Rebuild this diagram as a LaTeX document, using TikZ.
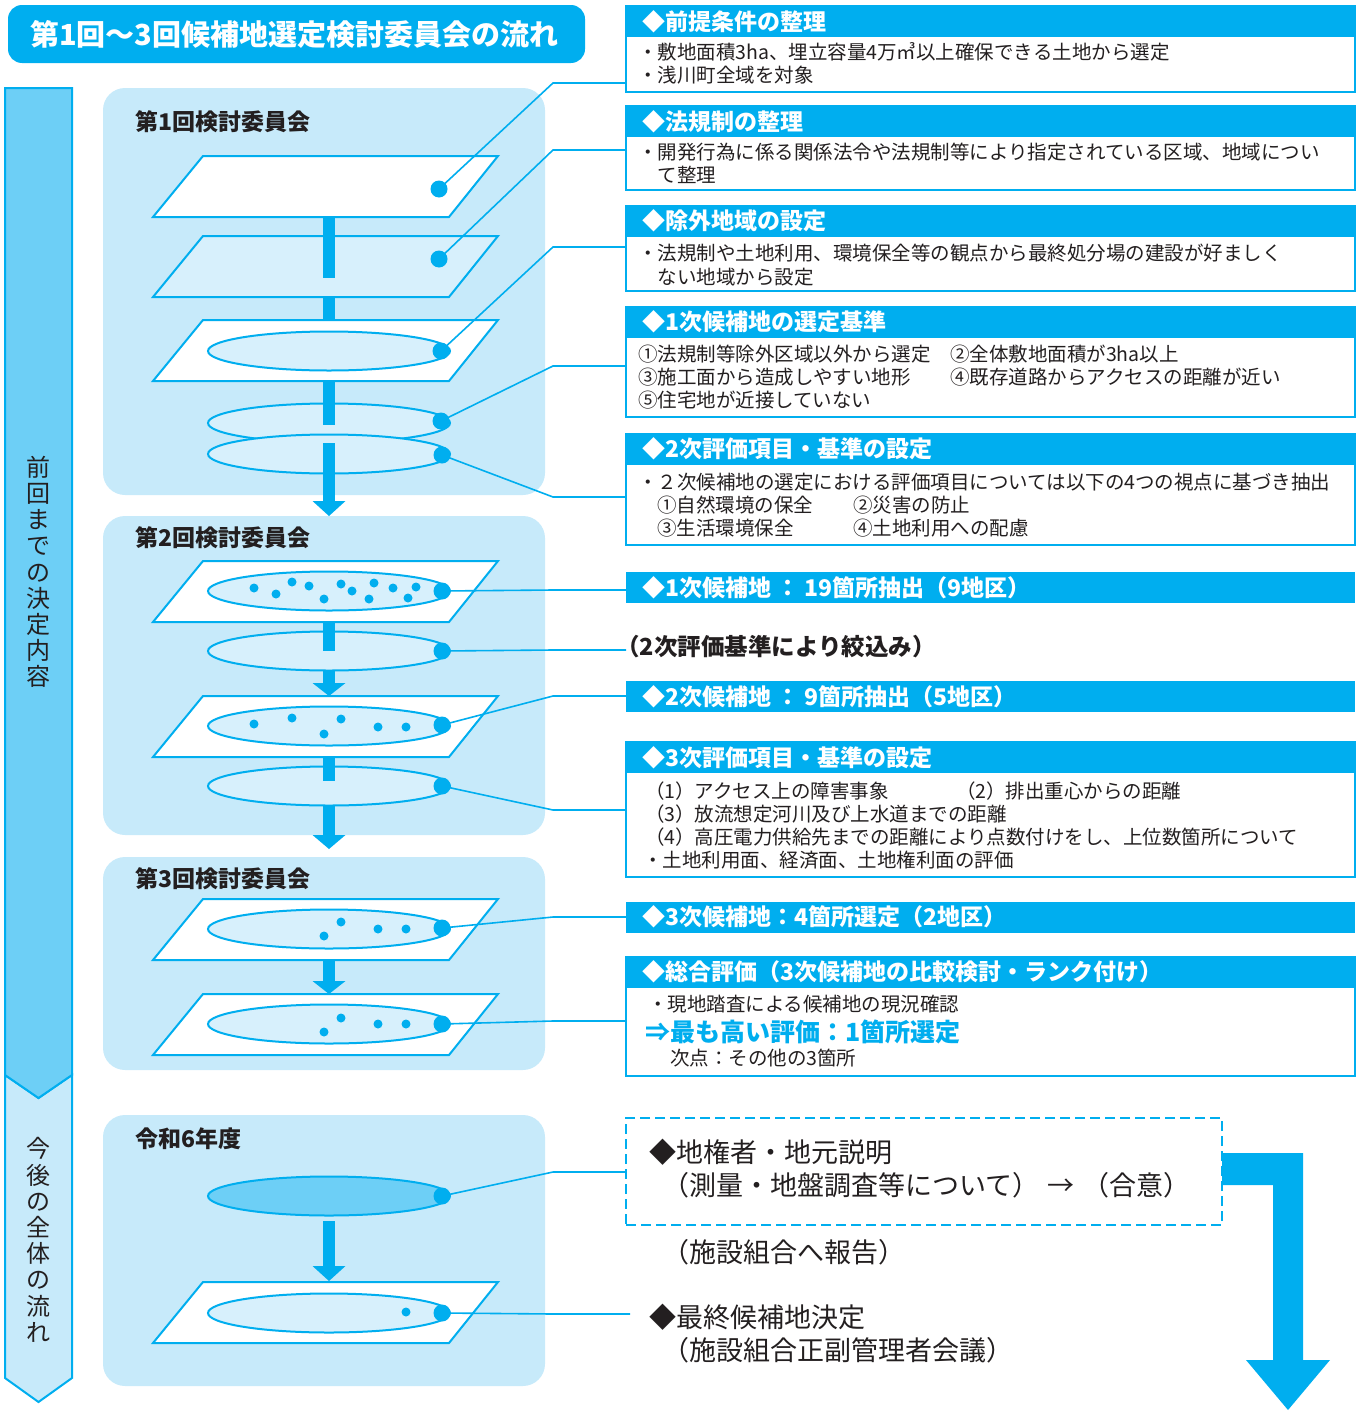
\documentclass[tikz,border=0pt]{standalone}
\usepackage{fontspec}
\setmainfont{Noto Sans CJK JP}
\newfontfamily\jph[RawFeature=+halt]{Noto Sans CJK JP}
\newcommand\lp{{\jph （}}
\newcommand\rp{{\jph ）}}
\definecolor{cy}{HTML}{00AEEF}
\definecolor{pan}{HTML}{C7EAFA}
\definecolor{ell}{HTML}{D7F0FC}
\definecolor{mid}{HTML}{6DCFF6}
\definecolor{ink}{HTML}{231F20}
\newcommand\myplane[2]{\filldraw[plane,fill=#2] (203,#1) -- (498,#1) -- (449,#1+61) -- (153,#1+61) -- cycle;}
\newcommand\myell[2]{\filldraw[ellp,fill=#2] (329,#1) ellipse [x radius=121, y radius=19.5];}
\newcommand\mybar[2]{\fill[cy] (323,#1) rectangle (335,#2);}
\newcommand\myarr[3]{\fill[cy] (323,#1) rectangle (335,#2+0.5); \fill[cy] (312.5,#2) -- (345.5,#2) -- (329,#3) -- cycle;}
\tikzset{
 every node/.style={inner sep=0pt, outer sep=0pt},
 plane/.style={draw=cy, line width=2pt},
 ellp/.style={draw=cy, line width=2pt},
 bdot/.style={circle, fill=cy, minimum size=17pt},
 conn/.style={draw=cy, line width=1.6pt},
 hdr/.style={fill=cy, anchor=north west, minimum width=729pt, minimum height=31pt},
 bodyb/.style={draw=cy, line width=2pt, fill=white, anchor=north west, minimum width=729pt},
 htxt/.style={anchor=west, text=white, font=\fontsize{23}{28}\selectfont\bfseries},
 btxt/.style={anchor=west, text=ink, align=left, font=\fontsize{19.5}{23.2}\selectfont},
 ptitle/.style={anchor=west, text=ink, font=\fontsize{23}{27}\selectfont\bfseries},
 vtxt/.style={text=ink, align=center, font=\fontsize{24}{26.2}\selectfont},
 bigtxt/.style={anchor=west, text=ink, align=left, font=\fontsize{27}{33}\selectfont},
}
\begin{document}
\begin{tikzpicture}[x=1pt,y=-1pt]
\useasboundingbox (0,0) rectangle (1372,1416);
% title
\node[fill=cy, rounded corners=14pt, minimum width=577pt, minimum height=58pt, anchor=north west] (title) at (8,5) {};
\node[anchor=west, text=white, font=\fontsize{29}{32}\selectfont\bfseries] (ttl) at (30,34) {第1回～3回候補地選定検討委員会の流れ};
% left arrow
\filldraw[draw=cy, line width=2pt, fill=pan] (5,1075) -- (38.5,1098) -- (72,1075) -- (72,1378) -- (38.5,1402) -- (5,1378) -- cycle;
\filldraw[draw=cy, line width=2pt, fill=mid] (5,88) -- (72,88) -- (72,1075) -- (38.5,1098) -- (5,1075) -- cycle;
\node[vtxt] (v1) at (38.5,572) {前\\回\\ま\\で\\の\\決\\定\\内\\容};
\node[vtxt] (v2) at (38.5,1240) {今\\後\\の\\全\\体\\の\\流\\れ};
% right boxes
\node[bodyb, minimum height=86pt] (b1) at (626,6) {};
\node[hdr] (h1) at (626,6) {};
\node[htxt] (ht1) at (642,21.5) {◆前提条件の整理};
\node[btxt] (bt1) at (638,63.5) {・敷地面積3ha、埋立容量4万㎥以上確保できる土地から選定\\・浅川町全域を対象};
\node[bodyb, minimum height=84pt] (b2) at (626,106) {};
\node[hdr] (h2) at (626,106) {};
\node[htxt] (ht2) at (642,121.5) {◆法規制の整理};
\node[btxt] (bt2) at (638,163.5) {・開発行為に係る関係法令や法規制等により指定されている区域、地域につい\\\hspace*{1em}て整理};
\node[bodyb, minimum height=85pt] (b3) at (626,206) {};
\node[hdr] (h3) at (626,206) {};
\node[htxt] (ht3) at (642,221) {◆除外地域の設定};
\node[btxt] (bt3) at (638,265) {・法規制や土地利用、環境保全等の観点から最終処分場の建設が好ましく\\\hspace*{1em}ない地域から設定};
\node[bodyb, minimum height=110pt] (b4) at (626,307) {};
\node[hdr] (h4) at (626,307) {};
\node[htxt] (ht4) at (642,322) {◆1次候補地の選定基準};
\node[btxt] (bt4a) at (638,377) {①法規制等除外区域以外から選定\\③施工面から造成しやすい地形\\⑤住宅地が近接していない};
\node[btxt] (bt4b) at (950,365.5) {②全体敷地面積が3ha以上\\④既存道路からアクセスの距離が近い};
\node[bodyb, minimum height=111pt] (b5) at (626,434) {};
\node[hdr] (h5) at (626,434) {};
\node[htxt] (ht5) at (642,449) {◆2次評価項目・基準の設定};
\node[btxt] (bt5a) at (638,482) {・２次候補地の選定における評価項目については以下の4つの視点に基づき抽出};
\node[btxt] (bt5b) at (657,516.5) {①自然環境の保全\\③生活環境保全};
\node[btxt] (bt5c) at (853,516.5) {②災害の防止\\④土地利用への配慮};
\node[hdr] (bar6) at (626,572) {};
\node[htxt] (ht6) at (642,587.5) {◆1次候補地\ ：\ 19箇所抽出（9地区）};
\node[anchor=west, text=ink, font=\fontsize{23.5}{28}\selectfont\bfseries] (t7) at (628,647) {\lp 2次評価基準により絞込み\rp};
\node[hdr] (bar8) at (626,681) {};
\node[htxt] (ht8) at (642,697) {◆2次候補地\ ：\ 9箇所抽出（5地区）};
\node[bodyb, minimum height=135pt] (b9) at (626,742) {};
\node[hdr] (h9) at (626,742) {};
\node[htxt] (ht9) at (642,758) {◆3次評価項目・基準の設定};
\node[btxt] (bt9a) at (645,814) {（1）アクセス上の障害事象\\（3）放流想定河川及び上水道までの距離\\（4）高圧電力供給先までの距離により点数付けをし、上位数箇所について};
\node[btxt] (bt9b) at (956,791) {（2）排出重心からの距離};
\node[btxt] (bt9c) at (643,860) {・土地利用面、経済面、土地権利面の評価};
\node[hdr] (bar10) at (626,902) {};
\node[htxt] (ht10) at (642,917) {◆3次候補地：4箇所選定（2地区）};
\node[bodyb, minimum height=119pt] (b11) at (626,957) {};
\node[hdr] (h11) at (626,957) {};
\node[htxt] (ht11) at (642,972) {◆総合評価（3次候補地の比較検討・ランク付け）};
\node[btxt] (bt11a) at (648,1004) {・現地踏査による候補地の現況確認};
\node[anchor=west, text=cy, font=\fontsize{25}{28}\selectfont\bfseries] (bt11b) at (645,1032) {⇒最も高い評価：1箇所選定};
\node[btxt] (bt11c) at (670,1058) {次点：その他の3箇所};
% dashed box and lower texts
\node[draw=cy, line width=2.5pt, dash pattern=on 10pt off 5pt, minimum width=596pt, minimum height=107pt, anchor=north west] (dbox) at (626,1118) {};
\node[bigtxt] (t12) at (649,1168.5) {◆地権者・地元説明\\\hspace*{1em}\lp 測量・地盤調査等について\rp\hspace{0.8em}→\hspace{0.8em}\lp 合意\rp};
\node[bigtxt] (t13) at (676,1252) {\lp 施設組合へ報告\rp};
\node[bigtxt] (t14) at (649,1333.5) {◆最終候補地決定\\\hspace*{1em}\lp 施設組合正副管理者会議\rp};
\fill[cy] (dbox.east |- 0,1153) -- (1303,1153) -- (1303,1360) -- (1330,1360) -- (1288,1410) -- (1246,1360) -- (1273,1360) -- (1273,1185) -- (dbox.east |- 0,1185) -- cycle;
% panels
\fill[pan, rounded corners=22pt] (103,88) rectangle (545,495);
\fill[pan, rounded corners=22pt] (103,516) rectangle (545,835);
\fill[pan, rounded corners=22pt] (103,857) rectangle (545,1070);
\fill[pan, rounded corners=22pt] (103,1115) rectangle (545,1386);
\node[ptitle] (pt1) at (135,122) {第1回検討委員会};
\node[ptitle] (pt2) at (135,538) {第2回検討委員会};
\node[ptitle] (pt3) at (135,879) {第3回検討委員会};
\node[ptitle] (pt4) at (135,1139) {令和6年度};
% panel 1
\myplane{156}{white}
\myplane{236}{ell}
\mybar{217}{278}
\mybar{296}{320}
\myplane{320}{white}
\myell{351}{ell}
\myell{423}{ell}
\mybar{381}{425}
\myell{454}{ell}
\myarr{443}{501}{516}
% panel 2
\myplane{561}{white}
\myell{591}{ell}
\foreach \p in {(254,588),(276,594),(292,582),(309,586),(324,599),(341,584),(352,591),(369,599),(374,583),(393,588),(408,598),(416,587)} \fill[cy] \p circle[radius=4.5];
\myell{651}{ell}
\mybar{621}{651}
\myarr{670}{683}{696}
\myplane{696}{white}
\myell{726}{ell}
\foreach \p in {(254,724),(292,718),(324,734),(341,719),(378,727),(406,727)} \fill[cy] \p circle[radius=4.5];
\myell{786}{ell}
\mybar{757}{781}
\myarr{805}{835}{849}
% panel 3
\myplane{899}{white}
\myell{929}{ell}
\foreach \p in {(341,922),(324,936),(378,929),(406,929)} \fill[cy] \p circle[radius=4.5];
\myarr{959}{981}{994}
\myplane{994}{white}
\myell{1024}{ell}
\foreach \p in {(341,1018),(324,1032),(378,1024),(406,1024)} \fill[cy] \p circle[radius=4.5];
% panel 4
\myell{1196}{mid}
\myarr{1221}{1266}{1281}
\myplane{1282}{white}
\myell{1313}{ell}
\fill[cy] (406,1312) circle[radius=4.5];
% big dots
\node[bdot] (d1) at (439,189) {};
\node[bdot] (d2) at (439,259) {};
\node[bdot] (d3) at (441,351) {};
\node[bdot] (d4) at (441,421) {};
\node[bdot] (d5) at (442,455) {};
\node[bdot] (d6) at (442,591) {};
\node[bdot] (d7) at (442,651) {};
\node[bdot] (d8) at (442,725) {};
\node[bdot] (d9) at (442,786) {};
\node[bdot] (d10) at (442,928) {};
\node[bdot] (d11) at (442,1024) {};
\node[bdot] (d12) at (442,1196) {};
\node[bdot] (d13) at (442,1313) {};
% connectors
\coordinate (k1) at (553,83);
\coordinate (k2) at (553,150);
\coordinate (k3) at (553,247);
\coordinate (k4) at (553,366);
\coordinate (k5) at (553,497);
\coordinate (k6) at (553,590);
\coordinate (k7) at (553,650);
\coordinate (k8) at (553,696);
\coordinate (k9) at (553,810);
\coordinate (k10) at (553,917);
\coordinate (k11) at (553,1021);
\coordinate (k12) at (553,1172);
\coordinate (k13) at (553,1314);
\coordinate (e7) at (626,650);
\coordinate (e13) at (630,1314);
\draw[conn] (d1.center) -- (k1) -- (k1 -| b1.west);
\draw[conn] (d2.center) -- (k2) -- (k2 -| b2.west);
\draw[conn] (d3.center) -- (k3) -- (k3 -| b3.west);
\draw[conn] (d4.center) -- (k4) -- (k4 -| b4.west);
\draw[conn] (d5.center) -- (k5) -- (k5 -| b5.west);
\draw[conn] (d6.center) -- (k6) -- (k6 -| bar6.west);
\draw[conn] (d7.center) -- (k7) -- (e7);
\draw[conn] (d8.center) -- (k8) -- (k8 -| bar8.west);
\draw[conn] (d9.center) -- (k9) -- (k9 -| b9.west);
\draw[conn] (d10.center) -- (k10) -- (k10 -| bar10.west);
\draw[conn] (d11.center) -- (k11) -- (k11 -| b11.west);
\draw[conn] (d12.center) -- (k12) -- (k12 -| dbox.west);
\draw[conn] (d13.center) -- (k13) -- (e13);
\end{tikzpicture}
\end{document}
